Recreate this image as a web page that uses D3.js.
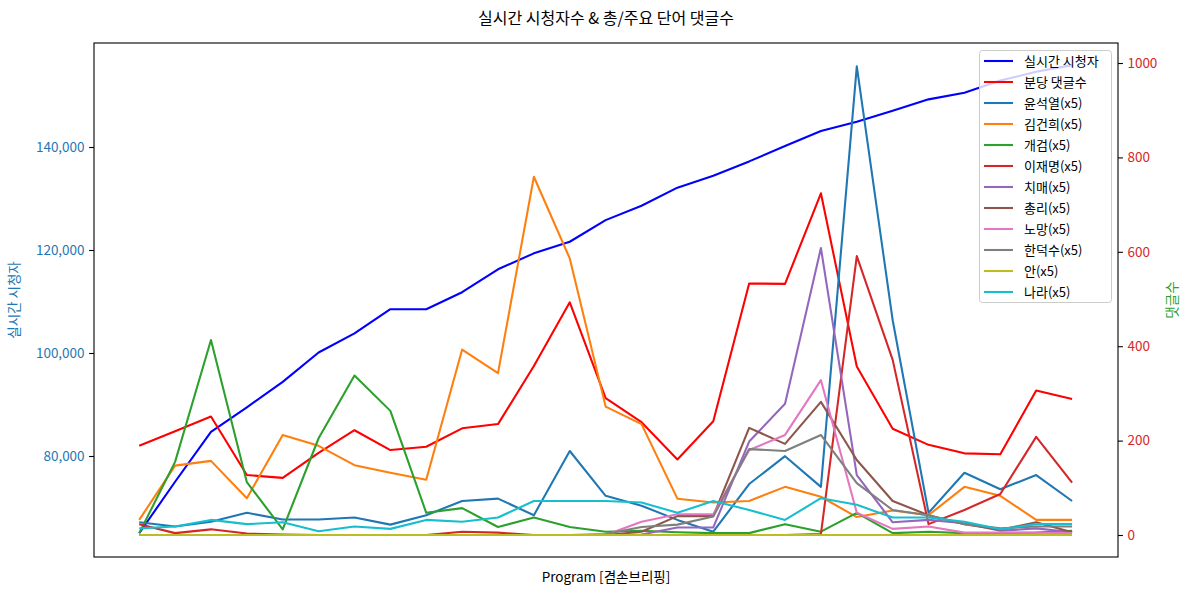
<!DOCTYPE html>
<html><head><meta charset="utf-8">
<script src="https://cdn.jsdelivr.net/npm/d3@7/dist/d3.min.js"></script>
<style>
body{margin:0;background:#fff}
svg{display:block}
text{font-family:"Noto Sans CJK KR","Noto Sans",sans-serif}
</style>
</head><body>
<svg id="chart" width="1189" height="592"></svg>
<script>
// ---- data ----
const segments = [0,1,2,3,4,5,6,7,8,9,10,11,12,13,14,15,16,17,18,19,20,21,22,23,24,25,26];
const viewers = [65000,75000,84700,89450,94400,100100,103800,108500,108500,111800,116250,119350,121600,125800,128600,132100,134400,137200,140200,143100,144900,147050,149250,150550,152900,154600,155900];
const commentsPerMin = [189,220,251,127,121,174,222,180,187,226,235,358,493,290,239,160,241,533,532,724,357,225,191,173,171,306,288];
const yoon   = [27,18,28,47,33,33,37,22,42,72,77,42,178,83,62,32,7,108,167,102,993,455,47,132,97,127,72];
const kimgh  = [32,147,157,78,212,189,148,132,117,393,343,759,586,272,235,77,69,72,102,81,38,52,42,102,83,32,32];
const gaegeom= [4,155,413,112,12,205,338,263,47,57,17,37,17,7,9,6,4,4,23,7,47,4,7,4,4,5,9];
const leejm  = [23,4,12,3,1,0,0,0,0,7,5,0,0,0,0,0,0,0,0,2,591,371,23,53,87,208,111];
const chimae = [0,0,0,0,0,0,0,0,0,0,0,0,0,0,1,16,16,198,278,608,127,27,32,25,9,14,6];
const chongri= [0,0,0,0,0,0,0,0,0,0,0,0,0,0,7,40,40,227,193,282,159,72,42,23,11,27,6];
const nomang = [0,0,0,0,0,0,0,0,0,0,0,0,0,0,28,44,44,180,212,328,47,13,18,5,5,5,4];
const hds    = [0,0,0,0,0,0,0,0,0,0,0,0,0,2,17,22,39,182,178,212,110,53,42,23,14,18,18];
const an     = [0,0,0,0,0,0,0,0,0,0,0,0,0,0,0,0,0,0,0,0,0,0,0,0,0,0,0];
const nara   = [14,18,32,23,27,8,18,13,32,28,37,72,72,72,69,47,72,53,32,78,64,37,37,28,12,23,23];

const leftTicks = [80000,100000,120000,140000];
const rightTicks = [0,200,400,600,800,1000];
const titleText = "실시간 시청자수 & 총/주요 단어 댓글수";
const xLabel = "Program [겸손브리핑]";
const leftLabel = "실시간 시청자";
const rightLabel = "댓글수";

const rightSeries = [
  {name:"분당 댓글수", values:commentsPerMin, color:"#ff0000"},
  {name:"윤석열(x5)", values:yoon, color:"#1f77b4"},
  {name:"김건희(x5)", values:kimgh, color:"#ff7f0e"},
  {name:"개검(x5)", values:gaegeom, color:"#2ca02c"},
  {name:"이재명(x5)", values:leejm, color:"#d62728"},
  {name:"치매(x5)", values:chimae, color:"#9467bd"},
  {name:"총리(x5)", values:chongri, color:"#8c564b"},
  {name:"노망(x5)", values:nomang, color:"#e377c2"},
  {name:"한덕수(x5)", values:hds, color:"#7f7f7f"},
  {name:"안(x5)", values:an, color:"#bcbd22"},
  {name:"나라(x5)", values:nara, color:"#17becf"}
];

// ---- layout ----
const L = 94, R = 1118, T = 43, B = 557;
const svg = d3.select("#chart");

const x = d3.scaleLinear().domain([-1.26, 27.28]).range([L, R]);
const yL = d3.scaleLinear().domain([60388, 160194]).range([B, T]);
const yR = d3.scaleLinear().domain([-46.6, 1042.4]).range([B, T]);

svg.append("defs").append("clipPath").attr("id","clip")
  .append("rect").attr("x",L).attr("y",T).attr("width",R-L).attr("height",B-T);

const plot = svg.append("g").attr("clip-path","url(#clip)");

const lineL = d3.line().x((d,i)=>x(segments[i])).y(d=>yL(d));
const lineR = d3.line().x((d,i)=>x(segments[i])).y(d=>yR(d));

plot.append("path").datum(viewers).attr("d",lineL)
  .attr("fill","none").attr("stroke","#0000ff").attr("stroke-width",2.08)
  .attr("stroke-linejoin","round");

rightSeries.forEach(s=>{
  plot.append("path").datum(s.values).attr("d",lineR)
    .attr("fill","none").attr("stroke",s.color).attr("stroke-width",2.08)
    .attr("stroke-linejoin","round");
});

// axes
const axL = d3.axisLeft(yL).tickValues(leftTicks).tickFormat(d3.format(",")).tickSize(4.9).tickPadding(4.5);
const gL = svg.append("g").attr("transform",`translate(${L},0)`).call(axL);
gL.select(".domain").remove();
gL.selectAll("line").attr("stroke","#000").attr("stroke-width",1.1);
gL.selectAll("text").attr("fill","#1f77b4").style("font-size","13.5px");

const axR = d3.axisRight(yR).tickValues(rightTicks).tickFormat(d3.format("d")).tickSize(4.9).tickPadding(4.5);
const gR = svg.append("g").attr("transform",`translate(${R},0)`).call(axR);
gR.select(".domain").remove();
gR.selectAll("line").attr("stroke","#000").attr("stroke-width",1.1);
gR.selectAll("text").attr("fill","#d62728").style("font-size","13.5px");

// frame
svg.append("rect").attr("x",L).attr("y",T).attr("width",R-L).attr("height",B-T)
  .attr("fill","none").attr("stroke","#000").attr("stroke-width",1.1);

// labels
svg.append("text").attr("x",(L+R)/2).attr("y",24).attr("text-anchor","middle")
  .style("font-size","16px").attr("fill","#000").text(titleText);
svg.append("text").attr("x",(L+R)/2).attr("y",582).attr("text-anchor","middle")
  .style("font-size","13.5px").attr("fill","#000").text(xLabel);
svg.append("text").attr("transform",`translate(19,${(T+B)/2}) rotate(-90)`).attr("text-anchor","middle")
  .style("font-size","13.5px").attr("fill","#1f77b4").text(leftLabel);
svg.append("text").attr("transform",`translate(1177,${(T+B)/2}) rotate(-90)`).attr("text-anchor","middle")
  .style("font-size","13.5px").attr("fill","#2ca02c").text(rightLabel);

// legend
const legendItems = [{name:"실시간 시청자", color:"#0000ff"}].concat(rightSeries.map(s=>({name:s.name,color:s.color})));
const lg = svg.append("g");
lg.append("rect").attr("x",979.5).attr("y",50.5).attr("width",132).attr("height",252).attr("rx",3)
  .attr("fill","#fff").attr("fill-opacity",0.8).attr("stroke","#cccccc").attr("stroke-width",1);
legendItems.forEach((d,i)=>{
  const yy = 61 + i*21;
  lg.append("line").attr("x1",984).attr("x2",1013).attr("y1",yy).attr("y2",yy)
    .attr("stroke",d.color).attr("stroke-width",2.08);
  lg.append("text").attr("x",1024).attr("y",yy).attr("dy","0.35em")
    .style("font-size","13px").attr("fill","#000").text(d.name);
});
</script>
</body></html>
